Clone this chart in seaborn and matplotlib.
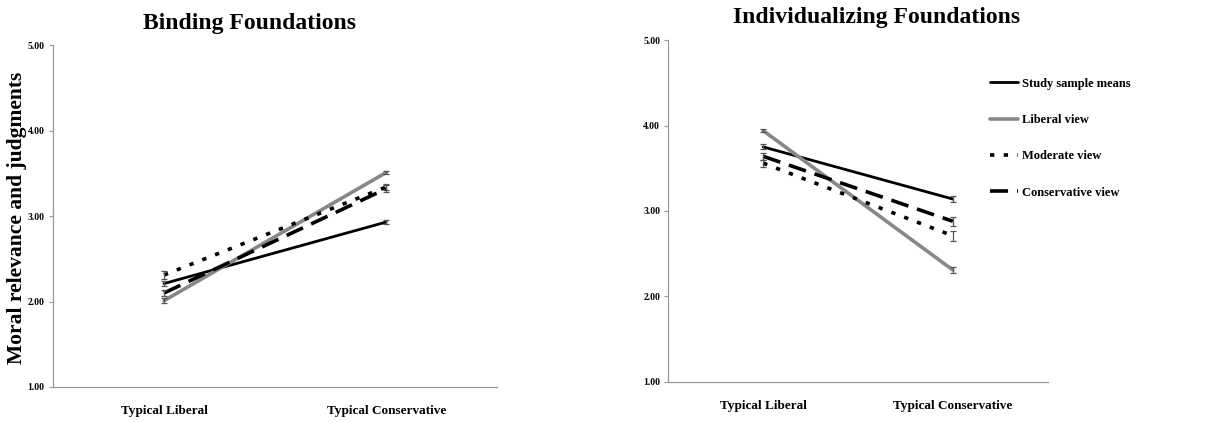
import matplotlib
matplotlib.use("Agg")
import matplotlib.pyplot as plt
import seaborn as sns
import pandas as pd

sns.set_theme(style="white")
plt.rcParams["font.family"] = ["Liberation Serif", "DejaVu Serif"]
plt.rcParams["font.weight"] = "bold"
plt.rcParams["text.color"] = "black"
plt.rcParams["xtick.color"] = "black"
plt.rcParams["ytick.color"] = "black"

targets = ["Typical Liberal", "Typical Conservative"]
series = ["Study sample means", "Liberal view", "Moderate view", "Conservative view"]

# Binding foundations: means and standard errors per series (liberal, conservative target)
binding_means = {
    "Study sample means": [2.21, 2.93],
    "Liberal view": [2.01, 3.51],
    "Moderate view": [2.31, 3.34],
    "Conservative view": [2.10, 3.32],
}
binding_se = {
    "Study sample means": [0.03, 0.02],
    "Liberal view": [0.03, 0.02],
    "Moderate view": [0.05, 0.03],
    "Conservative view": [0.03, 0.04],
}

# Individualizing foundations
indiv_means = {
    "Study sample means": [3.75, 3.14],
    "Liberal view": [3.94, 2.31],
    "Moderate view": [3.56, 2.71],
    "Conservative view": [3.64, 2.88],
}
indiv_se = {
    "Study sample means": [0.03, 0.03],
    "Liberal view": [0.02, 0.03],
    "Moderate view": [0.04, 0.06],
    "Conservative view": [0.04, 0.05],
}

styles = {
    "Study sample means": dict(color="black", lw=2.0, ls="-"),
    "Liberal view": dict(color="#888888", lw=2.6, ls="-"),
    "Moderate view": dict(color="black", lw=2.6, ls=(0, (1.2, 2.6))),
    "Conservative view": dict(color="black", lw=2.6, ls=(0, (5, 2.5))),
}


def draw_panel(ax, means, ses, legend=False):
    for name in series:
        df = pd.DataFrame({"x": [0, 1], "y": means[name]})
        st = styles[name]
        sns.lineplot(data=df, x="x", y="y", ax=ax, color=st["color"],
                     linewidth=st["lw"], linestyle=st["ls"],
                     label=name if legend else None, legend=False)
        ax.errorbar([0, 1], means[name], yerr=ses[name], fmt="none",
                    ecolor="#555555", elinewidth=0.9, capsize=2.5, capthick=0.9)
    ax.set_xlim(-0.5, 1.5)
    ax.set_ylim(1, 5)
    ax.set_yticks([1, 2, 3, 4, 5])
    ax.set_yticklabels([f"{v:.2f}" for v in [1, 2, 3, 4, 5]], fontsize=7, fontweight="bold")
    ax.set_xticks([0, 1])
    ax.set_xticklabels(targets, fontsize=9.5, fontweight="bold")
    ax.tick_params(axis="x", length=0, pad=13)
    ax.tick_params(axis="y", length=3, width=0.8, color="#999999", labelcolor="black",
                   direction="out", left=True, pad=3)
    for side in ["top", "right"]:
        ax.spines[side].set_visible(False)
    for side in ["left", "bottom"]:
        ax.spines[side].set_color("#999999")
        ax.spines[side].set_linewidth(0.9)
    ax.set_xlabel("")
    ax.set_ylabel("")


fig = plt.figure(figsize=(12.31, 4.22), dpi=100)
ax1 = fig.add_axes([0.043, 0.083, 0.361, 0.810])
ax2 = fig.add_axes([0.543, 0.095, 0.308, 0.810])

draw_panel(ax1, binding_means, binding_se)
draw_panel(ax2, indiv_means, indiv_se, legend=True)

fig.text(17 / 1231, 1 - 218 / 422, "Moral relevance and judgments", rotation=90,
         ha="center", va="center", fontsize=15.5, fontweight="bold")

fig.text(250 / 1231, 1 - 24 / 422, "Binding Foundations", ha="center", va="center",
         fontsize=17, fontweight="bold")
fig.text(877 / 1231, 1 - 17 / 422, "Individualizing Foundations", ha="center", va="center",
         fontsize=17, fontweight="bold")

handles, labels = ax2.get_legend_handles_labels()
leg = ax2.legend(handles, labels, loc="upper left", bbox_to_anchor=(0.834, 0.905),
                 frameon=False, fontsize=9, handlelength=2.3, labelspacing=1.95,
                 handletextpad=0.3, borderaxespad=0)
for t in leg.get_texts():
    t.set_fontweight("bold")
    t.set_color("black")

fig.savefig("out.png", dpi=100, facecolor="white")
